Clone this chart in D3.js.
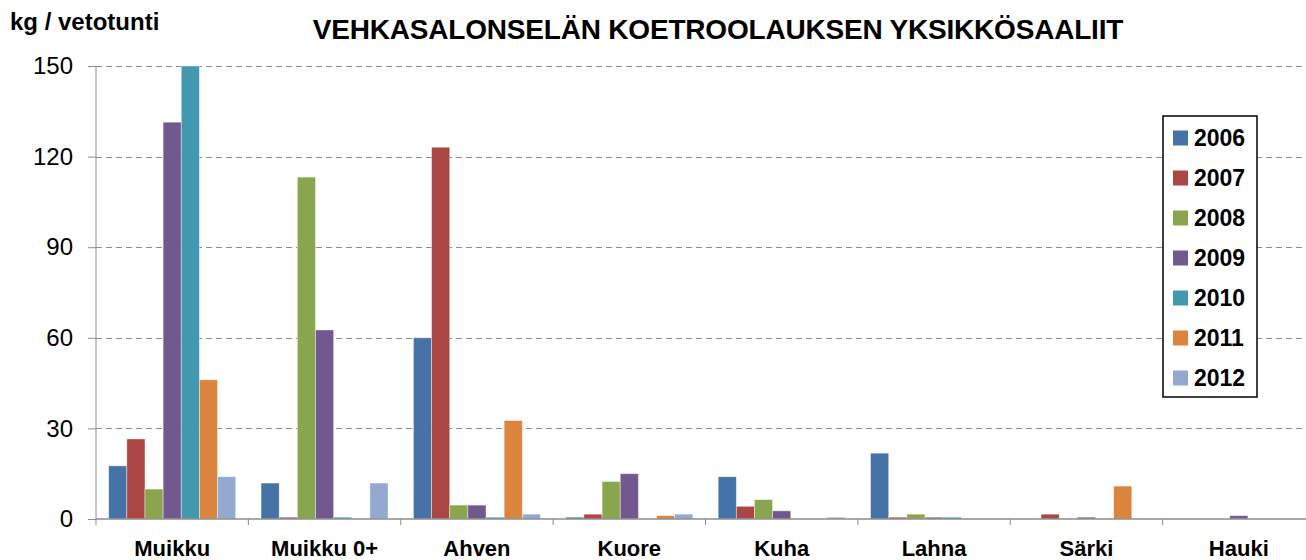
<!DOCTYPE html>
<html>
<head>
<meta charset="utf-8">
<script src="https://cdn.jsdelivr.net/npm/d3@7"></script>
<style>
  body { margin: 0; background: #fff; }
  svg { display: block; font-family: "Liberation Sans", Arial, sans-serif; }
</style>
</head>
<body>
<div class="chart_area"></div>
<script>
// fish species and yearly catch per trawl hour (kg)
var categories = ["Muikku", "Muikku 0+", "Ahven", "Kuore", "Kuha", "Lahna", "Särki", "Hauki"];
var years = ["2006", "2007", "2008", "2009", "2010", "2011", "2012"];
var v2006 = [17.6, 11.9, 60.0, 0.6, 14.0, 21.8, 0, 0];
var v2007 = [26.5, 0.6, 123.1, 1.6, 4.2, 0.6, 1.6, 0];
var v2008 = [9.9, 113.2, 4.6, 12.4, 6.4, 1.6, 0, 0];
var v2009 = [131.4, 62.6, 4.6, 15.0, 2.7, 0.6, 0.6, 1.1];
var v2010 = [150.0, 0.6, 0.6, 0, 0, 0.6, 0, 0];
var v2011 = [46.1, 0, 32.6, 1.1, 0, 0, 10.9, 0];
var v2012 = [14.0, 11.9, 1.6, 1.6, 0.6, 0, 0, 0];
var yTicks = [0, 30, 60, 90, 120, 150];
var colors = ["#4572A7", "#AA4643", "#89A54E", "#71588F", "#4198AF", "#DB843D", "#93A9CF"];

var series = [v2006, v2007, v2008, v2009, v2010, v2011, v2012];

var W = 1306, H = 560;
var margin = {top: 66, left: 96, bottom: 41};
var plotRight = 1315;

var svg = d3.select(".chart_area")
  .append("svg")
  .attr("width", W)
  .attr("height", H);

var x = d3.scaleBand()
    .domain(categories)
    .range([margin.left, plotRight])
    .paddingInner(0)
    .paddingOuter(0);

var x1 = d3.scaleBand()
    .domain(years)
    .range([0, x.bandwidth()])
    .paddingInner(0)
    .paddingOuter(0.7);

var y = d3.scaleLinear()
    .domain([0, 150])
    .range([H - margin.bottom, margin.top]);

// grid lines
svg.append("g")
  .selectAll("line")
  .data(yTicks.filter(function(d) { return d > 0; }))
  .enter()
  .append("line")
    .attr("x1", margin.left)
    .attr("x2", W)
    .attr("y1", function(d) { return Math.round(y(d)) + 0.5; })
    .attr("y2", function(d) { return Math.round(y(d)) + 0.5; })
    .style("stroke", "#8c8c8c")
    .style("stroke-width", 1.2)
    .style("stroke-dasharray", "6,4");

// bars
var rows = [];
categories.forEach(function(c, i) {
  years.forEach(function(yr, j) {
    rows.push({cat: c, year: yr, value: series[j][i], color: colors[j]});
  });
});

svg.append("g")
  .selectAll("rect")
  .data(rows.filter(function(d) { return d.value > 0; }))
  .enter()
  .append("rect")
    .attr("x", function(d) { return x(d.cat) + x1(d.year); })
    .attr("y", function(d) { return y(d.value); })
    .attr("width", x1.bandwidth())
    .attr("height", function(d) { return y(0) - y(d.value); })
    .style("fill", function(d) { return d.color; })
    .style("stroke", "rgba(255,255,255,0.5)")
    .style("stroke-width", 0.8);

// y axis
var yAxis = svg.append("g")
  .attr("transform", "translate(" + margin.left + ",0)")
  .call(d3.axisLeft(y).tickValues(yTicks).tickSize(8).tickPadding(15));
yAxis.select(".domain").style("stroke", "#8c8c8c").attr("d", "M0," + y(0) + "V" + y(150));
yAxis.selectAll(".tick line").style("stroke", "#8c8c8c");
yAxis.selectAll("text")
  .style("font-size", "24px")
  .style("fill", "#000");

// x axis
var xAxis = svg.append("g")
  .attr("transform", "translate(0," + y(0) + ")");
xAxis.append("line")
  .attr("x1", margin.left).attr("x2", W)
  .attr("y1", 0).attr("y2", 0)
  .style("stroke", "#8c8c8c").style("stroke-width", 1.5);
xAxis.selectAll(".xt")
  .data(categories.concat(["end"]))
  .enter()
  .append("line")
    .attr("class", "xt")
    .attr("x1", function(d, i) { return i < categories.length ? x(d) : plotRight; })
    .attr("x2", function(d, i) { return i < categories.length ? x(d) : plotRight; })
    .attr("y1", 0).attr("y2", 6)
    .style("stroke", "#8c8c8c");
xAxis.selectAll(".xl")
  .data(categories)
  .enter()
  .append("text")
    .attr("class", "xl")
    .attr("x", function(d) { return x(d) + x.bandwidth() / 2; })
    .attr("y", 37)
    .attr("text-anchor", "middle")
    .style("font-size", "22px")
    .style("font-weight", "bold")
    .text(function(d) { return d; });

// titles
svg.append("text")
  .attr("x", 718).attr("y", 39)
  .attr("text-anchor", "middle")
  .style("font-size", "28px")
  .style("font-weight", "bold")
  .style("letter-spacing", "-0.2px")
  .text("VEHKASALONSELÄN KOETROOLAUKSEN YKSIKKÖSAALIIT");

svg.append("text")
  .attr("x", 10).attr("y", 30)
  .style("font-size", "24px")
  .style("font-weight", "bold")
  .text("kg / vetotunti");

// legend
var legend = svg.append("g").attr("transform", "translate(1163,116)");
legend.append("rect")
  .attr("width", 94).attr("height", 281)
  .style("fill", "#fff")
  .style("stroke", "#000")
  .style("stroke-width", 1.5);
var li = legend.selectAll(".li")
  .data(years)
  .enter()
  .append("g")
    .attr("class", "li")
    .attr("transform", function(d, i) { return "translate(0," + (22 + i * 40) + ")"; });
li.append("rect")
  .attr("x", 10).attr("y", -7.5)
  .attr("width", 15).attr("height", 15)
  .style("fill", function(d, i) { return colors[i]; });
li.append("text")
  .attr("x", 31).attr("y", 8)
  .style("font-size", "23px")
  .style("font-weight", "bold")
  .text(function(d) { return d; });
</script>
</body>
</html>
